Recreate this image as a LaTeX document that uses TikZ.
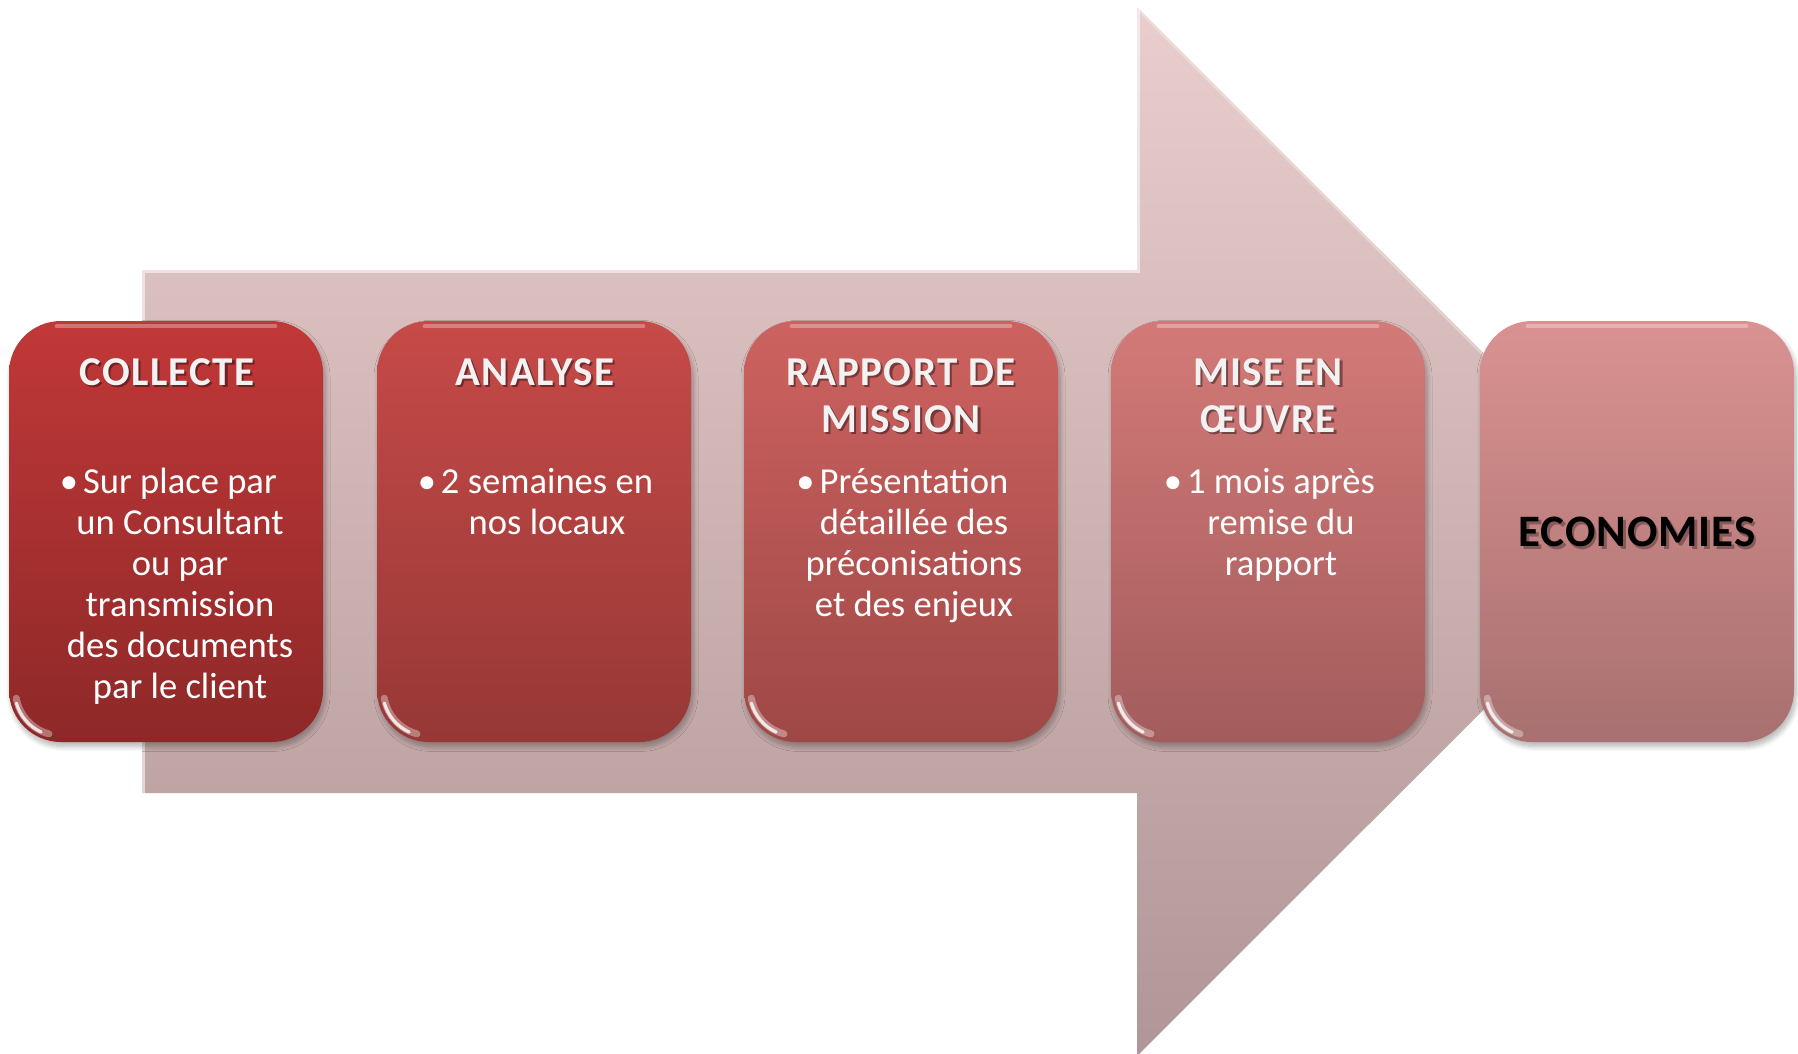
\documentclass[tikz,border=0pt]{standalone}
\usepackage{fontspec}
\setmainfont{Carlito}
\newfontfamily\ttlfont[LetterSpace=3.5]{Carlito}
\newfontfamily\econfont[LetterSpace=2]{Carlito}
\usetikzlibrary{shadows.blur}

\definecolor{arrowtop}{RGB}{234,206,206}
\definecolor{arrowbot}{RGB}{176,150,150}
\definecolor{bAtop}{RGB}{193,56,56}
\definecolor{bAbot}{RGB}{142,40,40}
\definecolor{bBtop}{RGB}{198,74,72}
\definecolor{bBbot}{RGB}{150,56,54}
\definecolor{bCtop}{RGB}{205,98,96}
\definecolor{bCbot}{RGB}{158,72,70}
\definecolor{bDtop}{RGB}{211,122,120}
\definecolor{bDbot}{RGB}{163,92,92}
\definecolor{bEtop}{RGB}{217,146,145}
\definecolor{bEbot}{RGB}{168,112,112}
\definecolor{titlegray}{RGB}{242,242,242}

\tikzset{
  stagebox/.style={rectangle, rounded corners=26pt, minimum width=157pt,
    minimum height=210.5pt, inner sep=0pt, draw=none,
    blur shadow={shadow xshift=1pt, shadow yshift=-2.2pt,
      shadow blur steps=10, shadow opacity=30, shadow blur radius=2.5pt}},
  ttl/.style={font=\ttlfont\bfseries\fontsize{20.5}{23.5}\selectfont,
    text=titlegray, anchor=base, inner sep=0pt},
  ttlshadow/.style={ttl, text=black, text opacity=0.4},
  bodytext/.style={font=\fontsize{18.3}{20.5}\selectfont, text=white,
    anchor=base, inner sep=0pt},
  econ/.style={font=\econfont\bfseries\fontsize{22.5}{24}\selectfont,
    text=black, anchor=base, inner sep=0pt},
  econshadow/.style={econ, text=black, text opacity=0.3},
  rimline/.style={draw=white, draw opacity=0.3, line width=2pt, line cap=round},
  glossline/.style={draw=white, line cap=round},
  arrowrim/.style={draw=white, draw opacity=0.55, line width=1.2pt},
}

\newcommand\mkstagetitle[4]{%
  \node[ttlshadow, xshift=1.1pt, yshift=-1.3pt] (#1s) at (#2,#3)
    {\begin{tabular}[t]{@{}c@{}}#4\end{tabular}};
  \node[ttl] (#1) at (#2,#3) {\begin{tabular}[t]{@{}c@{}}#4\end{tabular}};}
\newcommand\mkstagebody[4]{%
  \node[bodytext] (#1) at (#2,#3)
    {\begin{tabular}[t]{@{}c@{}}\llap{\textbullet\hspace{2.5pt}}#4\end{tabular}};}
\newcommand\mkgloss[1]{%
  \draw[rimline] ([xshift=24pt,yshift=-2.8pt]#1.north west) -- ([xshift=-24pt,yshift=-2.8pt]#1.north east);
  \draw[glossline, draw opacity=0.35, line width=3.5pt] ([shift={(26pt,26pt)}]#1.south west) ++(190:22.5pt) arc (190:255:22.5pt);
  \draw[glossline, draw opacity=0.8, line width=1.6pt] ([shift={(26pt,26pt)}]#1.south west) ++(196:23pt) arc (196:245:23pt);}

\begin{document}
\begin{tikzpicture}[x=0.5pt, y=-0.5pt]
\useasboundingbox (0,0) rectangle (1798,1054);

% big background arrow
\coordinate (s1) at (142,270);
\coordinate (s2) at (1137,270);
\coordinate (h1) at (1137,7);
\coordinate (tip) at (1662,531.5);
\coordinate (h2) at (1137,1056);
\coordinate (s3) at (1137,793);
\coordinate (s4) at (142,793);
\path[top color=arrowtop, bottom color=arrowbot]
  (s1) -- (s2) -- (h1) -- (tip) -- (h2) -- (s3) -- (s4) -- cycle;
\draw[arrowrim] ([shift={(0.8pt,0pt)}]s4) -- ([shift={(0.8pt,-0.8pt)}]s1)
  -- ([shift={(0.8pt,-0.8pt)}]s2) -- ([shift={(0.8pt,0pt)}]h1);
\draw[arrowrim, draw opacity=0.3] ([shift={(0.8pt,-1.6pt)}]h1) -- ([shift={(-1.2pt,0pt)}]tip);

% stage boxes
\node[stagebox, top color=bAtop, bottom color=bAbot] (b1) at (166,531.5) {};
\node[stagebox, top color=bBtop, bottom color=bBbot] (b2) at (534,531.5) {};
\node[stagebox, top color=bCtop, bottom color=bCbot] (b3) at (901,531.5) {};
\node[stagebox, top color=bDtop, bottom color=bDbot] (b4) at (1268,531.5) {};
\node[stagebox, top color=bEtop, bottom color=bEbot] (b5) at (1637,531.5) {};
\mkgloss{b1}
\mkgloss{b2}
\mkgloss{b3}
\mkgloss{b4}
\mkgloss{b5}

% titles
\mkstagetitle{t1}{167}{385}{COLLECTE}
\mkstagetitle{t2}{535}{385}{ANALYSE}
\mkstagetitle{t3}{901}{385}{RAPPORT DE\\ MISSION}
\mkstagetitle{t4}{1268}{385}{MISE EN\\ ŒUVRE}

% bodies
\mkstagebody{d1}{180}{493}{Sur place par\\ un Consultant\\ ou par\\ transmission\\ des documents\\ par le client}
\mkstagebody{d2}{547}{493}{2 semaines en\\ nos locaux}
\mkstagebody{d3}{914}{493}{Présentation\\ détaillée des\\ préconisations\\ et des enjeux}
\mkstagebody{d4}{1281}{493}{1 mois après\\ remise du\\ rapport}

% final stage
\node[econshadow, xshift=1.3pt, yshift=-1.5pt] (e5s) at (1637,546) {ECONOMIES};
\node[econ] (e5) at (1637,546) {ECONOMIES};
\end{tikzpicture}
\end{document}
